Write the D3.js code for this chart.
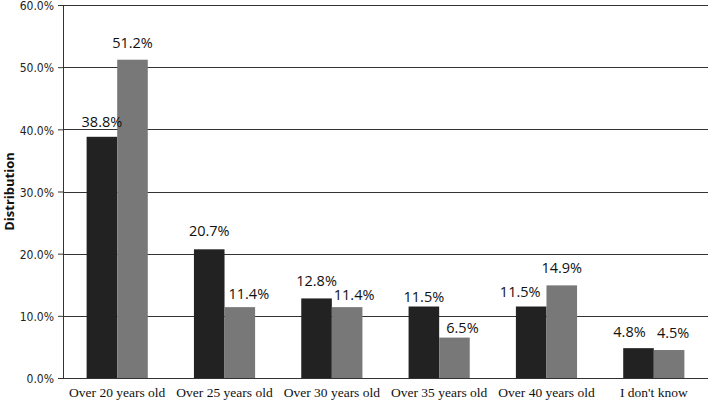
<!DOCTYPE html>
<html>
<head>
<meta charset="utf-8">
<script src="https://cdn.jsdelivr.net/npm/d3@7"></script>
<style>
  body { margin: 0; background: #fff; }
  svg { display: block; }
</style>
</head>
<body>
<svg width="708" height="401"></svg>
<script>
const categories = ["Over 20 years old", "Over 25 years old", "Over 30 years old", "Over 35 years old", "Over 40 years old", "I don't know"];
const seriesA = [38.8, 20.7, 12.8, 11.5, 11.5, 4.8];
const seriesB = [51.2, 11.4, 11.4, 6.5, 14.9, 4.5];
const yTicks = [0, 10, 20, 30, 40, 50, 60];

// label nudges (px) so labels clear neighbouring bars/labels
const labelShiftA = [0, 0, 0, 0, -11, -9];
const labelShiftB = [0, 9, 7, 8, 0, 4];
const labelGapA = [10, 13, 12, 5, 10, 11];
const labelGapB = [12, 8, 7, 4.5, 12, 12.5];

const svg = d3.select("svg");
const margin = { left: 63, right: 0, top: 5, bottom: 23 };
const width = 708 - margin.left - margin.right;
const height = 401 - margin.top - margin.bottom;

const g = svg.append("g").attr("transform", `translate(${margin.left},${margin.top})`);

const x = d3.scaleBand().domain(categories).range([0, width]).paddingInner(0.43).paddingOuter(0.22);
const xs = d3.scaleBand().domain(["a", "b"]).range([0, x.bandwidth()]);
const y = d3.scaleLinear().domain([0, 60]).range([height, 0]);

// gridlines
g.selectAll(".grid")
    .data(yTicks)
    .enter()
    .append("line")
    .attr("x1", 0)
    .attr("x2", width)
    .attr("y1", d => Math.round(y(d)) + 0.5)
    .attr("y2", d => Math.round(y(d)) + 0.5)
    .attr("stroke", "#333")
    .attr("stroke-width", 1);

// y axis
const yAxis = g.append("g")
    .call(d3.axisLeft(y).tickValues(yTicks).tickSize(5).tickFormat(d => d.toFixed(1) + "%"));
yAxis.select(".domain").attr("stroke", "#333");
yAxis.selectAll(".tick line").attr("stroke", "#333");
yAxis.selectAll("text")
    .attr("font-family", "'DejaVu Sans Condensed', 'Open Sans', sans-serif")
    .attr("font-size", 12)
    .attr("fill", "#222")
    .attr("x", -9)
    .attr("dy", "0.4em");

const rows = categories.map((c, i) => ({
    c, a: seriesA[i], b: seriesB[i],
    sa: labelShiftA[i], sb: labelShiftB[i],
    ga: labelGapA[i], gb: labelGapB[i]
}));

const groups = g.selectAll(".cat")
    .data(rows)
    .enter()
    .append("g")
    .attr("transform", d => `translate(${x(d.c)},0)`);

const bars = [
    { key: "a", color: "#222222", shift: "sa", gap: "ga" },
    { key: "b", color: "#787878", shift: "sb", gap: "gb" }
];

bars.forEach(b => {
    groups.append("rect")
        .attr("x", xs(b.key))
        .attr("width", xs.bandwidth())
        .attr("y", d => y(d[b.key]))
        .attr("height", d => height - y(d[b.key]))
        .attr("fill", b.color);
});

bars.forEach(b => {
    groups.append("text")
        .attr("x", d => xs(b.key) + xs.bandwidth() / 2 + d[b.shift])
        .attr("y", d => y(d[b.key]) - d[b.gap])
        .attr("text-anchor", "middle")
        .attr("font-family", "'Open Sans', sans-serif")
        .attr("font-size", 14.5)
        .attr("fill", "#111")
        .text(d => d[b.key].toFixed(1) + "%");
});

// x labels
g.selectAll(".xlabel")
    .data(categories)
    .enter()
    .append("text")
    .attr("x", d => x(d) + x.bandwidth() / 2)
    .attr("y", height + 19)
    .attr("text-anchor", "middle")
    .attr("font-family", "'Liberation Serif', serif")
    .attr("font-size", 13.5)
    .attr("fill", "#111")
    .text(d => d);

// y axis title
svg.append("text")
    .attr("transform", `translate(14,${margin.top + height / 2}) rotate(-90)`)
    .attr("text-anchor", "middle")
    .attr("font-family", "'Open Sans', sans-serif")
    .attr("font-weight", "bold")
    .attr("font-size", 13)
    .attr("fill", "#111")
    .text("Distribution");
</script>
</body>
</html>
